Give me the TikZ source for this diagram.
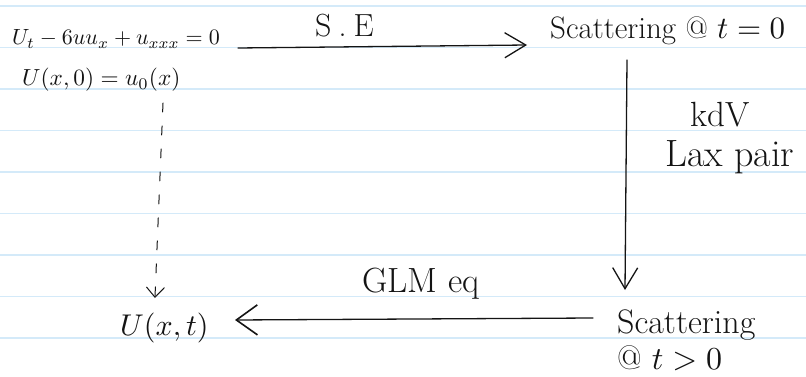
\documentclass[tikz,border=0pt]{standalone}
\usepackage{fontspec}
\usepackage{graphicx}
\usetikzlibrary{arrows.meta}
\definecolor{ruled}{RGB}{212,234,249}
\definecolor{ink}{RGB}{20,20,20}
\newcommand{\bigmath}[2]{{\normalsize\scalebox{#1}{$#2$}}}
\begin{document}
\begin{tikzpicture}[x=1pt,y=-1pt,
  hand/.style={inner sep=0pt, text=ink, anchor=base west},
  conn/.style={draw=ink, line width=1.3pt, line cap=round},
  arr/.style={conn, -{Straight Barb[length=21pt,width=25pt,line width=1.3pt]}},
  barr/.style={conn, -{Straight Barb[length=21pt,width=30pt,line width=1.6pt]}},
  darr/.style={conn, line width=1pt, dash pattern=on 9pt off 14pt, -{Straight Barb[length=10pt,width=18pt,line width=1pt,sep=-1pt]}}]
\useasboundingbox (0,0) rectangle (806,377);
\fill[white] (0,0) rectangle (806,377);
\foreach \yy in {6,47.5,89,130.5,172,213.5,255,296.5,338}
  \draw[ruled, line width=1.3pt] (0,\yy) -- (806,\yy);

\node[hand] (eq) at (12,45) {\bigmath{2.2}{U_t - 6uu_x + u_{xxx} = 0}};
\node[hand] (ic) at (22,86) {\bigmath{2.33}{U(x,0) = u_0(x)}};
\node[hand, font=\fontsize{31}{36}\selectfont] (sc0) at (550,39) {Scattering @ \bigmath{3.1}{t=0}};
\node[hand, font=\fontsize{32}{36}\selectfont] (se) at (315,37) {S\hspace{7pt}.\hspace{7pt}E};
\node[hand, font=\fontsize{35}{38}\selectfont] (kdv) at (690,127) {kdV};
\node[hand, font=\fontsize{38}{40}\selectfont] (lax) at (665,167) {Lax pair};
\node[hand, font=\fontsize{34}{36}\selectfont, align=left] (sc1) at (617,369) {Scattering\\@ \bigmath{3.2}{t>0}};
\node[hand, font=\fontsize{35}{38}\selectfont] (glm) at (362,292) {GLM eq};
\node[hand] (ut) at (120,335) {\bigmath{3.0}{U(x,t)}};

\draw[arr] ([shift={(226,3)}]eq.base west) -- ([shift={(-23,6)}]sc0.base west);
\draw[arr] ([shift={(77,21)}]sc0.base west) -- ([shift={(8,-79)}]sc1.base west);
\draw[barr] ([shift={(-24,-51)}]sc1.base west) -- ([shift={(115,-15)}]ut.base west);
\draw[darr] ([shift={(141,17)}]ic.base west) -- ([shift={(35,-38)}]ut.base west);
\end{tikzpicture}
\end{document}
